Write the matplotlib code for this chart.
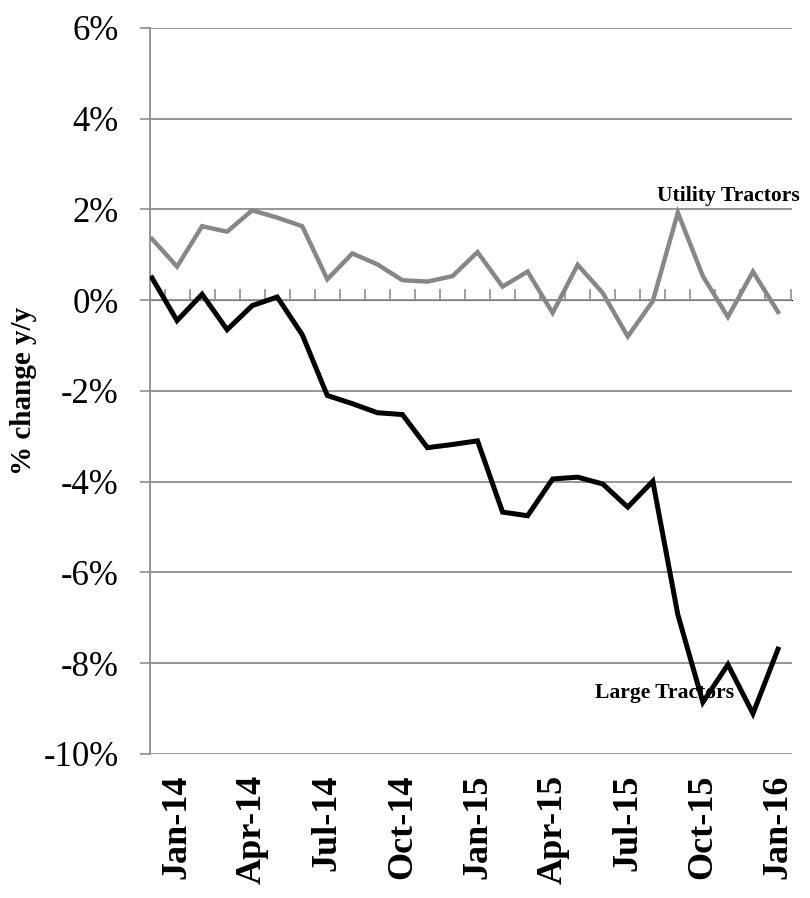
import matplotlib
matplotlib.use('Agg')
import matplotlib.pyplot as plt
import numpy as np

# monthly y/y change, Dec-13 through Jan-16
months = ['Dec-13', 'Jan-14', 'Feb-14', 'Mar-14', 'Apr-14', 'May-14', 'Jun-14',
          'Jul-14', 'Aug-14', 'Sep-14', 'Oct-14', 'Nov-14', 'Dec-14', 'Jan-15',
          'Feb-15', 'Mar-15', 'Apr-15', 'May-15', 'Jun-15', 'Jul-15', 'Aug-15',
          'Sep-15', 'Oct-15', 'Nov-15', 'Dec-15', 'Jan-16']
utility = [1.35, 0.74, 1.63, 1.51, 1.98, 1.82, 1.63, 0.46, 1.03, 0.79, 0.44, 0.41, 0.53,
           1.06, 0.30, 0.63, -0.28, 0.78, 0.16, -0.80, -0.02, 1.93, 0.53, -0.37, 0.63, -0.26]
large = [0.49, -0.45, 0.13, -0.65, -0.12, 0.07, -0.76, -2.10, -2.28, -2.48, -2.52, -3.25, -3.18,
         -3.10, -4.67, -4.75, -3.94, -3.90, -4.05, -4.56, -3.99, -6.93, -8.86, -8.03, -9.11, -7.69]
shown_labels = ['Jan-14', 'Apr-14', 'Jul-14', 'Oct-14', 'Jan-15', 'Apr-15', 'Jul-15', 'Oct-15', 'Jan-16']
y_ticks = [-10, -8, -6, -4, -2, 0, 2, 4, 6]

plt.rcParams['font.family'] = ['Liberation Serif', 'DejaVu Serif']
grid_col = '#8e8e8e'

fig = plt.figure(figsize=(8.1, 8.98), dpi=100)
ax = fig.add_axes([0.1852, 0.1604, 0.7926, 0.8085])

x = np.arange(len(months))
ax.plot(x, utility, color='#878787', lw=3.2, solid_joinstyle='miter', zorder=3)
ax.plot(x, large, color='black', lw=3.6, solid_joinstyle='miter', zorder=4)

# y axis
ax.set_ylim(-10, 6)
ax.set_yticks(y_ticks)
ax.set_yticklabels([f'{v}%' for v in y_ticks])
ax.yaxis.grid(True, color=grid_col, lw=1.3)
ax.tick_params(axis='y', length=7.5, width=1.2, color=grid_col, pad=15, labelsize=25)
ax.set_ylabel('% change y/y', fontsize=21, fontweight='bold')
ax.yaxis.set_label_coords(-0.176, 0.5)

# x axis labels at bottom, every quarter
ax.set_xlim(-0.08, 25.56)
label_pos = [months.index(m) for m in shown_labels]
ax.set_xticks(label_pos)
ax.set_xticklabels(shown_labels, rotation=90, fontsize=26, fontweight='bold')
ax.tick_params(axis='x', length=0, pad=15)

for side in ['top', 'right', 'bottom']:
    ax.spines[side].set_visible(False)
ax.spines['left'].set_color(grid_col)
ax.spines['left'].set_linewidth(1.3)

# category axis crossing at 0% with tick marks between months
zero_ax = ax.secondary_xaxis(10 / 16)
zero_ax.set_xticks(np.arange(0.5, len(months), 1.0))
zero_ax.set_xticklabels([])
zero_ax.tick_params(axis='x', direction='out', length=8, width=1.2, color=grid_col)
zero_ax.spines['bottom'].set_color(grid_col)
zero_ax.spines['bottom'].set_linewidth(1.3)

# series labels
ax.text(20.15, 2.3, 'Utility Tractors', fontsize=15.6, fontweight='bold', va='center', ha='left')
ax.text(17.7, -8.65, 'Large Tractors', fontsize=15.6, fontweight='bold', va='center', ha='left')

plt.savefig('out.png', dpi=100)
